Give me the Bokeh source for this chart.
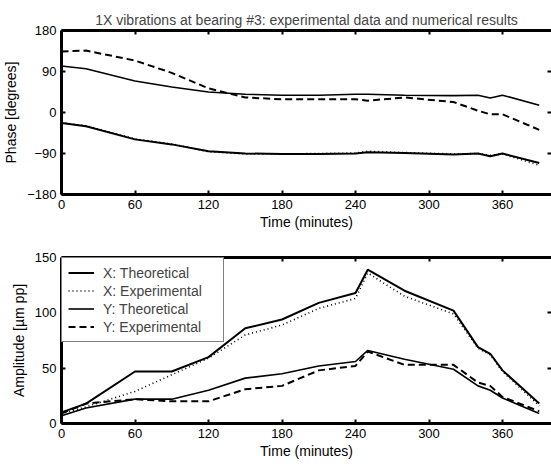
from bokeh.plotting import figure
from bokeh.models import Range1d, FixedTicker, LinearAxis, Legend, LegendItem
from bokeh.layouts import column
from bokeh.embed import file_html
from bokeh.resources import INLINE

# ---- data ----
time_min = [0, 20, 60, 90, 120, 150, 180, 210, 240, 250, 280, 320, 340, 350, 360, 390]

phase_x_theo = [-23, -30, -59, -70, -85, -90, -91, -91, -90, -87, -89, -92, -90, -96, -90, -111]
phase_x_exp = [-22, -29, -58, -69, -86, -91, -91, -90, -89, -85, -88, -91, -90, -94, -91, -116]
phase_y_theo = [102, 96, 69, 56, 45, 40, 38, 38, 40, 40, 38, 37, 38, 32, 38, 16]
phase_y_exp = [134, 136, 114, 87, 53, 33, 29, 29, 29, 26, 33, 23, 4, -4, -4, -38]

amp_x_theo = [10, 18, 47, 47, 60, 86, 94, 109, 118, 139, 120, 102, 69, 63, 48, 18]
amp_x_exp = [9, 15, 29, 44, 59, 80, 89, 104, 113, 136, 115, 99, 68, 62, 47, 16]
amp_y_theo = [7, 14, 22, 22, 30, 41, 45, 52, 56, 66, 58, 49, 34, 30, 23, 9]
amp_y_exp = [9, 18, 22, 20, 20, 31, 34, 48, 52, 65, 53, 53, 37, 34, 24, 11]

x_ticks = [0, 60, 120, 180, 240, 300, 360]
phase_ticks = [-180, -90, 0, 90, 180]
amp_ticks = [0, 50, 100, 150]

title_text = "1X vibrations at bearing #3: experimental data and numerical results"
x_label = "Time (minutes)"
phase_label = "Phase [degrees]"
amp_label = "Amplitude [\u00b5m pp]"
series_names = ["X: Theoretical", "X: Experimental", "Y: Theoretical", "Y: Experimental"]

FONT = "Liberation Sans"
W = 551


def make_fig(h, ymin, ymax, yticks, ylabel, top, bottom, title=None):
    p = figure(width=W, height=h, output_backend="svg", toolbar_location=None,
               x_range=Range1d(0, 400), y_range=Range1d(ymin, ymax),
               min_border_left=60, min_border_right=0,
               min_border_top=top, min_border_bottom=bottom,
               title=title)
    p.outline_line_color = None
    p.grid.visible = False
    p.background_fill_color = "white"
    p.border_fill_color = "white"
    if title:
        p.title.text_font = FONT
        p.title.text_font_size = "14px"
        p.title.text_font_style = "normal"
        p.title.align = "center"
        p.title.standoff = 5
    top_ax = LinearAxis(ticker=FixedTicker(ticks=x_ticks))
    right_ax = LinearAxis(ticker=FixedTicker(ticks=yticks))
    p.add_layout(top_ax, "above")
    p.add_layout(right_ax, "right")
    for ax in p.xaxis:
        ax.ticker = FixedTicker(ticks=x_ticks)
    for ax in p.yaxis:
        ax.ticker = FixedTicker(ticks=yticks)
    for ax in list(p.xaxis) + list(p.yaxis):
        ax.major_tick_in = 4
        ax.major_tick_out = 0
        ax.major_tick_line_width = 2
        ax.minor_tick_line_color = None
        ax.axis_line_width = 3
        ax.axis_line_color = "black"
        ax.major_label_text_font = FONT
        ax.major_label_text_font_size = "13px"
        ax.major_label_text_color = "black"
        ax.axis_label_text_font = FONT
        ax.axis_label_text_font_size = "14px"
        ax.axis_label_text_font_style = "normal"
        ax.axis_label_text_color = "black"
    for ax in (top_ax, right_ax):
        ax.major_label_text_color = None
        ax.major_label_standoff = 0
    right_ax.axis_line_color = None
    p.below[0].axis_label = x_label
    p.below[0].axis_label_standoff = 2
    p.below[0].major_label_standoff = 5
    p.left[0].axis_label = ylabel
    p.left[0].major_label_standoff = 5
    p.left[0].axis_label_standoff = 5
    return p


p1 = make_fig(232, -180, 180, phase_ticks, phase_label, 30, 37, title=title_text)
p2 = make_fig(237, 0, 150, amp_ticks, amp_label, 25, 46)

styles = [
    dict(line_width=2.0, line_dash="solid"),
    dict(line_width=1.6, line_dash="1 3"),
    dict(line_width=1.6, line_dash="solid"),
    dict(line_width=2.0, line_dash="7 4"),
]

for ys, st in zip([phase_x_theo, phase_x_exp, phase_y_theo, phase_y_exp], styles):
    p1.line(time_min, ys, line_color="black", **st)

renderers = []
for ys, st in zip([amp_x_theo, amp_x_exp, amp_y_theo, amp_y_exp], styles):
    renderers.append(p2.line(time_min, ys, line_color="black", **st))

items = [LegendItem(label=n, renderers=[r]) for n, r in zip(series_names, renderers)]

legend = Legend(items=items,
                location="top_left", margin=0, padding=6, spacing=1,
                glyph_width=26, glyph_height=17, label_height=17, label_width=114,
                label_standoff=9,
                label_text_font=FONT, label_text_font_size="14px",
                border_line_color="black", border_line_width=1.5,
                background_fill_color="white", background_fill_alpha=1.0)
p2.add_layout(legend)

layout = column(p1, p2, spacing=0)
open("out.html", "w").write(file_html(layout, INLINE))
